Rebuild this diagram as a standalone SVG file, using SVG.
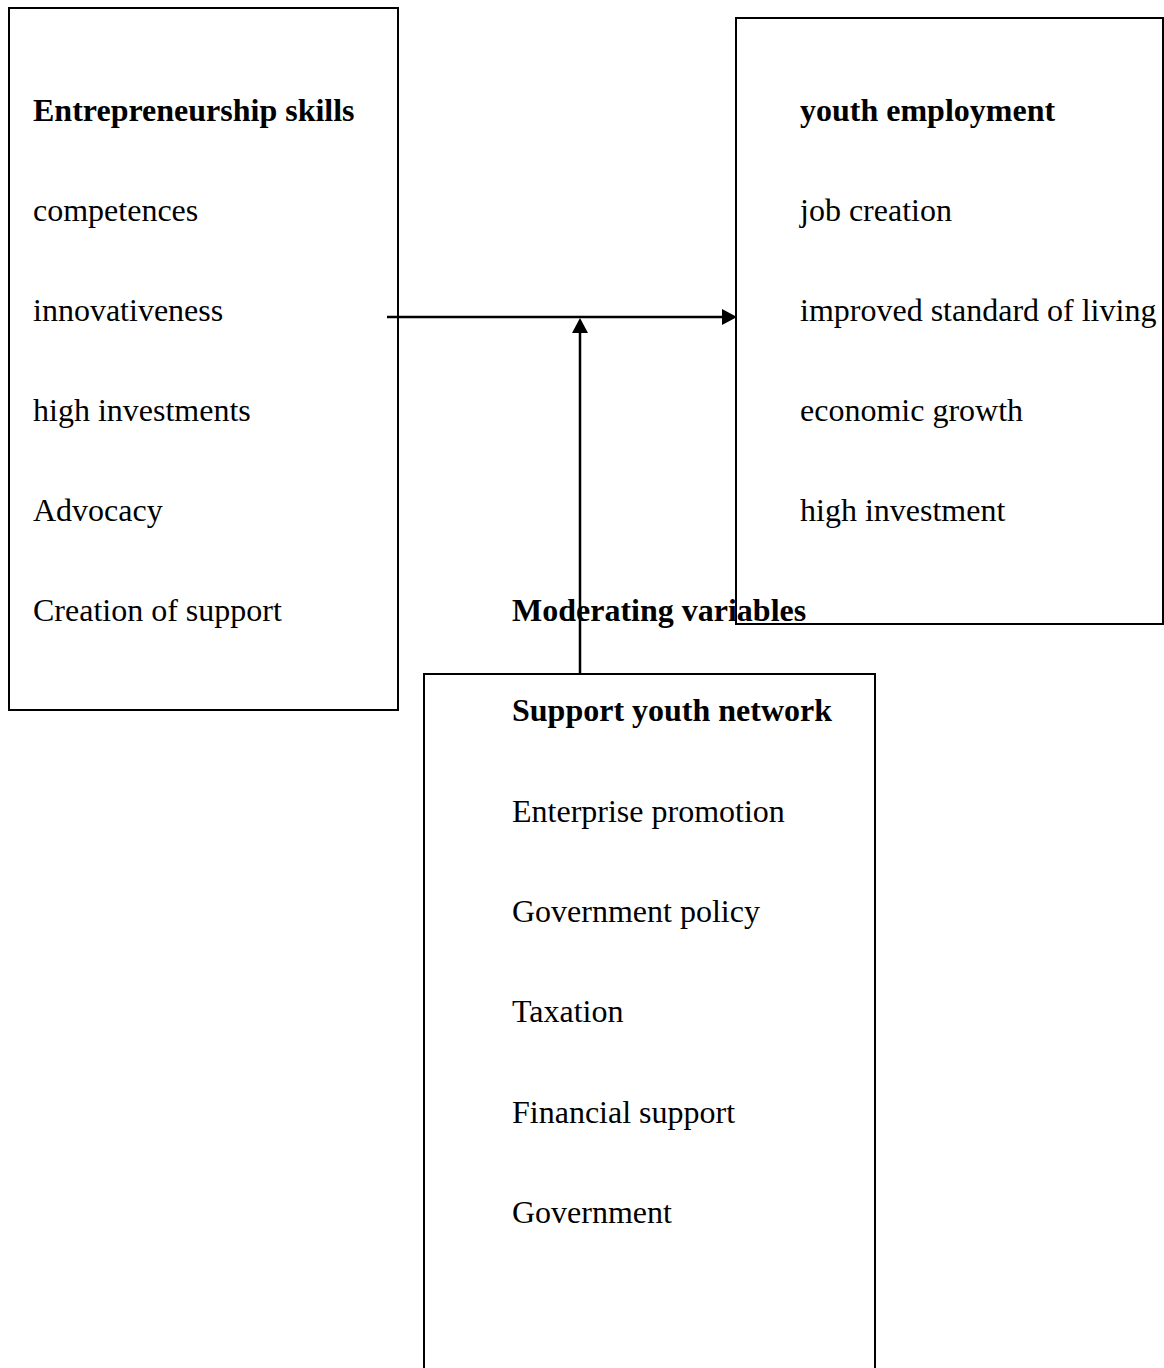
<svg xmlns="http://www.w3.org/2000/svg" width="1164" height="1368" viewBox="0 0 1164 1368">
<defs>
<style>
.box{fill:#fff;stroke:#000;stroke-width:2}
.t{font-family:"Liberation Serif","Times New Roman",serif;font-size:32px;fill:#000}
.b{font-weight:bold}
.ln{stroke:#000;stroke-width:2.5;fill:none}
</style>
<marker id="ah" markerWidth="10" markerHeight="10" refX="10" refY="5" orient="auto" markerUnits="userSpaceOnUse" viewBox="0 0 10 10">
<path d="M0,0 L10,5 L0,10 Z" fill="#000"/>
</marker>
</defs>
<rect width="1164" height="1368" fill="#fff"/>
<g id="node-entrepreneurship">
<rect class="box" x="9" y="8" width="389" height="702"/>
<text class="t b" x="33" y="121">Entrepreneurship skills</text>
<text class="t" x="33" y="221">competences</text>
<text class="t" x="33" y="321">innovativeness</text>
<text class="t" x="33" y="421">high investments</text>
<text class="t" x="33" y="521">Advocacy</text>
<text class="t" x="33" y="621">Creation of support</text>
</g>
<g id="node-youth-employment">
<rect class="box" x="736" y="18" width="427" height="606"/>
<text class="t b" x="800" y="121">youth employment</text>
<text class="t" x="800" y="221">job creation</text>
<text class="t" x="800" y="321">improved standard of living</text>
<text class="t" x="800" y="421">economic growth</text>
<text class="t" x="800" y="521">high investment</text>
</g>
<g id="node-support">
<rect class="box" x="424" y="674" width="451" height="720"/>
<text class="t b" x="512" y="721">Support youth network</text>
<text class="t" x="512" y="822">Enterprise promotion</text>
<text class="t" x="512" y="922">Government policy</text>
<text class="t" x="512" y="1022">Taxation</text>
<text class="t" x="512" y="1123">Financial support</text>
<text class="t" x="512" y="1223">Government</text>
</g>
<g id="label-moderating">
<text class="t b" x="512" y="621">Moderating variables</text>
</g>
<g id="connectors">
<line class="ln" x1="387" y1="317" x2="722" y2="317"/>
<path d="M722,309 L737,317 L722,325 Z" fill="#000"/>
<line class="ln" x1="580" y1="674" x2="580" y2="333"/>
<path d="M572,333 L580,318 L588,333 Z" fill="#000"/>
</g>
</svg>
